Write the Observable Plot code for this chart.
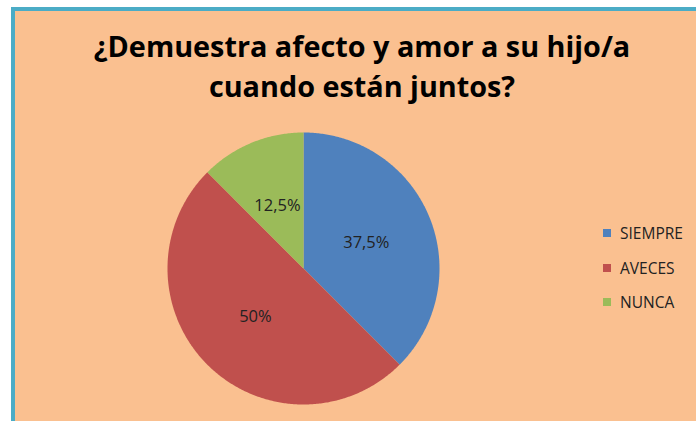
<!DOCTYPE html>
<html>
<head>
<meta charset="utf-8">
<script src="https://cdn.jsdelivr.net/npm/d3@7"></script>
<script src="https://cdn.jsdelivr.net/npm/@observablehq/plot@0.6"></script>
<style>
  html, body { margin: 0; padding: 0; width: 696px; height: 421px; overflow: hidden; background: #ffffff; }
  #frame { position: absolute; left: 11px; top: 7px; width: 720px; height: 440px;
           background: #FAC090; border-left: 4px solid #4BACC6; border-top: 4px solid #4BACC6; }
  #title { position: absolute; left: 0; top: 26px; width: 724px; text-align: center;
           font-family: "Open Sans", sans-serif; font-weight: 700; font-size: 28.8px; line-height: 40px; color: #000; }
  #chart { position: absolute; left: 0; top: 0; }
  #legend { position: absolute; left: 603px; top: 221px; font-family: "Open Sans", sans-serif; font-size: 15.5px; color: #222; }
  .item { position: relative; height: 34.5px; line-height: 24px; padding-left: 17px; }
  .sw { position: absolute; left: 0; top: 8px; width: 8px; height: 8px; }
</style>
</head>
<body>
<div id="frame"></div>
<div id="title">¿Demuestra afecto y amor a su hijo/a<br>cuando están juntos?</div>
<div id="chart"></div>
<div id="legend"></div>
<script>
const categories = ["SIEMPRE", "AVECES", "NUNCA"];
const values = [37.5, 50, 12.5];
const labels = ["37,5%", "50%", "12,5%"];
const colors = ["#4F81BD", "#C0504D", "#9BBB59"];

const arcs = d3.pie().sort(null).startAngle(0).endAngle(2 * Math.PI)(values);

// polygon points per slice (angles from 12 o'clock, clockwise)
const pts = [];
arcs.forEach((a, i) => {
  pts.push({cat: categories[i], x: 0, y: 0});
  const n = Math.max(2, Math.ceil((a.endAngle - a.startAngle) / 0.01));
  for (let k = 0; k <= n; k++) {
    const t = a.startAngle + (a.endAngle - a.startAngle) * k / n;
    pts.push({cat: categories[i], x: Math.sin(t), y: Math.cos(t)});
  }
  pts.push({cat: categories[i], x: 0, y: 0});
});
const lbl = arcs.map((a, i) => {
  const m = (a.startAngle + a.endAngle) / 2;
  return {text: labels[i], x: 0.5 * Math.sin(m), y: 0.5 * Math.cos(m)};
});

const plot = Plot.plot({
  width: 696, height: 421,
  marginLeft: 167, marginRight: 257, marginTop: 132, marginBottom: 17,
  x: {domain: [-1, 1], axis: null},
  y: {domain: [-1, 1], axis: null},
  color: {domain: categories, range: colors},
  style: {background: "transparent", overflow: "visible"},
  marks: [
    Plot.line(pts, {x: "x", y: "y", z: "cat", fill: "cat", stroke: "none", curve: "linear"}),
    Plot.text(lbl, {x: "x", y: "y", text: "text", fill: "#222", fontSize: 16.5, fontFamily: "Open Sans, sans-serif"})
  ]
});
document.getElementById("chart").appendChild(plot);

const leg = document.getElementById("legend");
categories.forEach((c, i) => {
  const d = document.createElement("div");
  d.className = "item";
  d.innerHTML = `<span class="sw" style="background:${colors[i]}"></span>${c}`;
  leg.appendChild(d);
});
</script>
</body>
</html>
